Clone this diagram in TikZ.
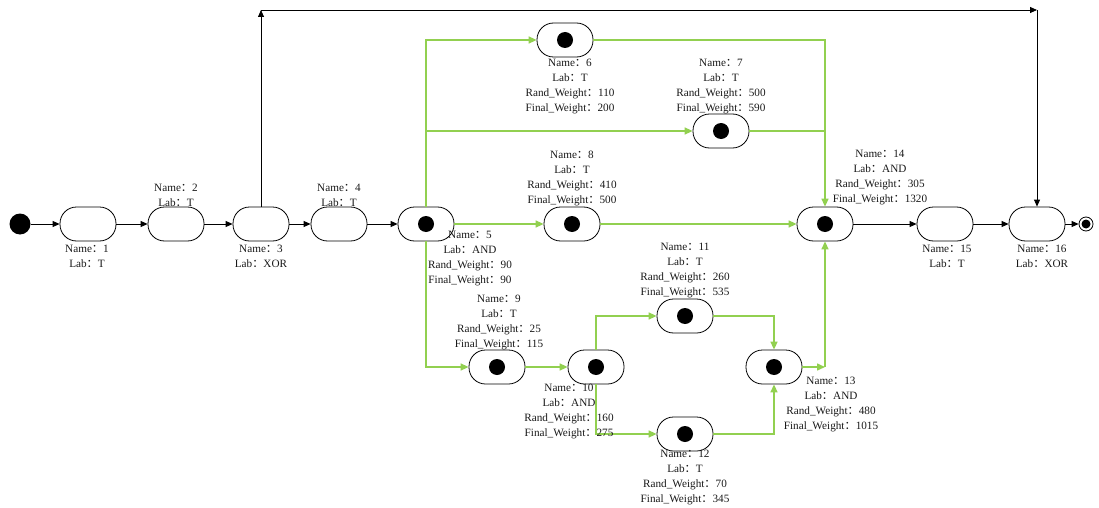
\documentclass[tikz,border=0pt]{standalone}
\usepackage{fontspec}
\setmainfont{Liberation Serif}
\newfontfamily\cjk{Noto Sans CJK SC}
\usetikzlibrary{arrows.meta}
\newcommand\cl{{\cjk ：}}
\definecolor{grn}{RGB}{146,208,80}
\begin{document}
\begin{tikzpicture}[x=1pt,y=-1pt,
 st/.style={draw, rounded corners=16.5pt, minimum width=56pt, minimum height=34pt, inner sep=0, line width=0.8pt},
 dot/.style={circle, fill=black, minimum size=16pt, inner sep=0},
 lbl/.style={align=center, font=\fontsize{11.2}{15}\selectfont, inner sep=0, text=black!90},
 blk/.style={draw=black, line width=0.8pt, -{Triangle[length=7pt,width=6pt]}},
 grn/.style={draw=grn, line width=1.5pt, -{Triangle[length=8pt,width=7pt]}},
 gl/.style={draw=grn, line width=1.5pt},
]
\useasboundingbox (0,0) rectangle (1099,508);
% start / end
\node[circle, fill=black, minimum size=21pt, inner sep=0] (s) at (20,224) {};
\node[circle, draw, line width=0.8pt, minimum size=14pt, inner sep=0] (e) at (1086,224) {};
\node[circle, fill=black, minimum size=9pt, inner sep=0] (ed) at (e) {};
% states
\node[st] (n1) at (88,224) {};
\node[st] (n2) at (176,224) {};
\node[st] (n3) at (261,224) {};
\node[st] (n4) at (339,224) {};
\node[st] (n5) at (426,224) {};
\node[st] (n6) at (565,40) {};
\node[st] (n7) at (721,131) {};
\node[st] (n8) at (572,224) {};
\node[st] (n9) at (497,367) {};
\node[st] (n10) at (596,367) {};
\node[st] (n11) at (685,316) {};
\node[st] (n12) at (685,434) {};
\node[st] (n13) at (774,367) {};
\node[st] (n14) at (825,224) {};
\node[st] (n15) at (945,224) {};
\node[st] (n16) at (1037,224) {};
\foreach \i in {5,6,7,8,9,10,11,12,13,14} {\node[dot] (d\i) at (n\i) {};}
% black edges
\draw[blk] (s) -- (n1);
\draw[blk] (n1) -- (n2);
\draw[blk] (n2) -- (n3);
\draw[blk] (n3) -- (n4);
\draw[blk] (n4) -- (n5);
\draw[blk] (n14) -- (n15);
\draw[blk] (n15) -- (n16);
\draw[blk] (n16) -- (e);
\coordinate (c1) at (261,10);
\coordinate (c2) at (1037,10);
\draw[blk] (n3.north) -- (c1);
\draw[blk] (c1) -- (c2);
\draw[blk] (c2) -- (n16.north);
% green edges
\draw[grn] (n5.north) |- (n6.west);
\draw[grn] (n5.north |- n7.west) -- (n7.west);
\draw[grn] (n5) -- (n8);
\draw[grn] (n5.south) |- (n9.west);
\draw[grn] (n9) -- (n10);
\draw[grn] (n10.north) |- (n11.west);
\draw[grn] (n10.south) |- (n12.west);
\draw[grn] (n11.east) -| (n13.north);
\draw[grn] (n12.east) -| (n13.south);
\coordinate (j13) at (n13.east -| n14.south);
\draw[grn] (n13.east) -- (j13);
\draw[grn] (j13) -- (n14.south);
\draw[grn] (n6.east) -| (n14.north);
\draw[gl] (n7.east) -- (n7.east -| n14.north);
\draw[grn] (n8) -- (n14);
% labels
\node[lbl] (l1) at (87,256) {Name\cl 1\\Lab\cl T};
\node[lbl] (l2) at (176,195) {Name\cl 2\\Lab\cl T};
\node[lbl] (l3) at (261,256) {Name\cl 3\\Lab\cl XOR};
\node[lbl] (l4) at (339,195) {Name\cl 4\\Lab\cl T};
\node[lbl] (l5) at (470,259) {Name\cl 5\\Lab\cl AND\\Rand\_Weight\cl 90\\Final\_Weight\cl 90};
\node[lbl] (l6) at (570,86.5) {Name\cl 6\\Lab\cl T\\Rand\_Weight\cl 110\\Final\_Weight\cl 200};
\node[lbl] (l7) at (721,86.5) {Name\cl 7\\Lab\cl T\\Rand\_Weight\cl 500\\Final\_Weight\cl 590};
\node[lbl] (l8) at (572,178.5) {Name\cl 8\\Lab\cl T\\Rand\_Weight\cl 410\\Final\_Weight\cl 500};
\node[lbl] (l9) at (499,322.5) {Name\cl 9\\Lab\cl T\\Rand\_Weight\cl 25\\Final\_Weight\cl 115};
\node[lbl] (l10) at (569,411) {Name\cl 10\\Lab\cl AND\\Rand\_Weight\cl 160\\Final\_Weight\cl 275};
\node[lbl] (l11) at (685,271) {Name\cl 11\\Lab\cl T\\Rand\_Weight\cl 260\\Final\_Weight\cl 535};
\node[lbl] (l12) at (685,477.5) {Name\cl 12\\Lab\cl T\\Rand\_Weight\cl 70\\Final\_Weight\cl 345};
\node[lbl] (l13) at (831,404.5) {Name\cl 13\\Lab\cl AND\\Rand\_Weight\cl 480\\Final\_Weight\cl 1015};
\node[lbl] (l14) at (880,177.5) {Name\cl 14\\Lab\cl AND\\Rand\_Weight\cl 305\\Final\_Weight\cl 1320};
\node[lbl] (l15) at (947,256) {Name\cl 15\\Lab\cl T};
\node[lbl] (l16) at (1042,256) {Name\cl 16\\Lab\cl XOR};
\end{tikzpicture}
\end{document}
